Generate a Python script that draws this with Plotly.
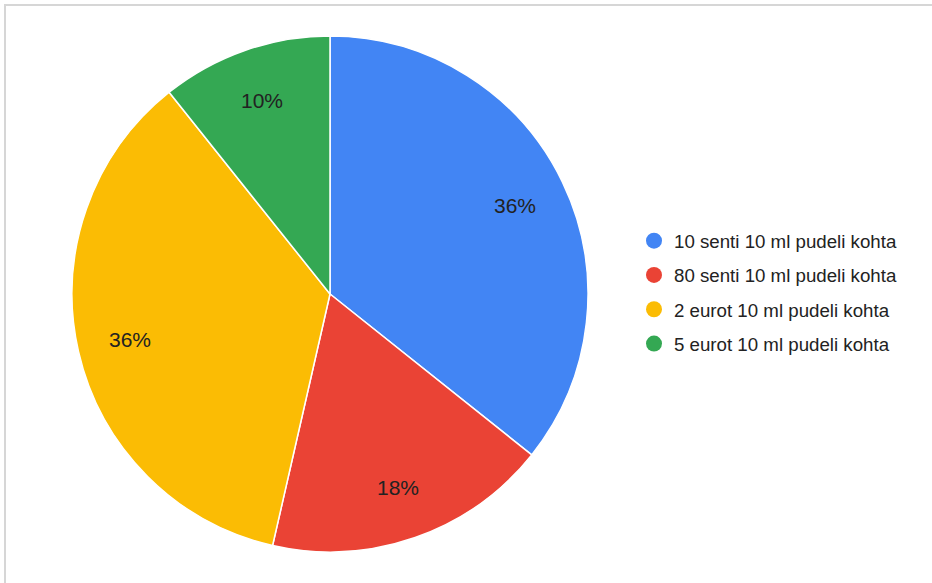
import math
import plotly.graph_objects as go

labels = ["10 senti 10 ml pudeli kohta", "80 senti 10 ml pudeli kohta",
          "2 eurot 10 ml pudeli kohta", "5 eurot 10 ml pudeli kohta"]
values = [10, 5, 10, 3]
colors = ["#4285F4", "#EA4335", "#FBBC04", "#34A853"]

W, H = 932, 583
cx, cy, R = 330, 294, 258
FONT = "Liberation Sans, Arial, Helvetica, sans-serif"

# percentages rounded so they add up to 100 (largest remainder, as Google Charts does)
total = sum(values)
raw = [100 * v / total for v in values]
pct = [math.floor(p) for p in raw]
order = sorted(range(len(raw)), key=lambda i: -(raw[i] - pct[i]))
for i in order[:100 - sum(pct)]:
    pct[i] += 1

fig = go.Figure()
fig.add_trace(go.Pie(
    labels=labels, values=values, sort=False, direction="clockwise", rotation=0,
    marker=dict(colors=colors, line=dict(color="white", width=1.5)),
    textinfo="none", showlegend=False, hoverinfo="label+percent",
    domain=dict(x=[(cx - R) / W, (cx + R) / W], y=[(H - cy - R) / H, (H - cy + R) / H]),
))
for lab, col in zip(labels, colors):
    fig.add_trace(go.Scatter(x=[None], y=[None], mode="markers", name=lab, legendgroup=lab,
                             marker=dict(symbol="circle", size=16, color=col)))

annotations = []
cum = 0
for v, p in zip(values, pct):
    mid = (cum + v / 2) / total * 2 * math.pi
    cum += v
    r = 0.795 * R
    px = cx + r * math.sin(mid)
    py = cy - r * math.cos(mid)
    annotations.append(dict(x=px / W, y=1 - py / H, xref="paper", yref="paper",
                            xanchor="center", yanchor="middle",
                            text=f"{p}%", showarrow=False,
                            font=dict(family=FONT, size=21, color="#222222")))

fig.update_layout(
    width=W, height=H, margin=dict(l=0, r=0, t=0, b=0),
    paper_bgcolor="white", plot_bgcolor="white",
    xaxis=dict(visible=False), yaxis=dict(visible=False),
    legend=dict(x=634 / W, y=1 - 222 / H, xanchor="left", yanchor="top",
                font=dict(family=FONT, size=18.7, color="#222222"),
                itemsizing="trace", tracegroupgap=7, bgcolor="rgba(0,0,0,0)"),
    annotations=annotations,
    shapes=[dict(type="rect", xref="paper", yref="paper", x0=5 / W, x1=1.02,
                 y0=-0.02, y1=1 - 5 / H, line=dict(color="#d6d6d6", width=2))],
)
fig.write_html("out.html", config={"displayModeBar": False},
               post_script="document.body.style.margin='0';")
